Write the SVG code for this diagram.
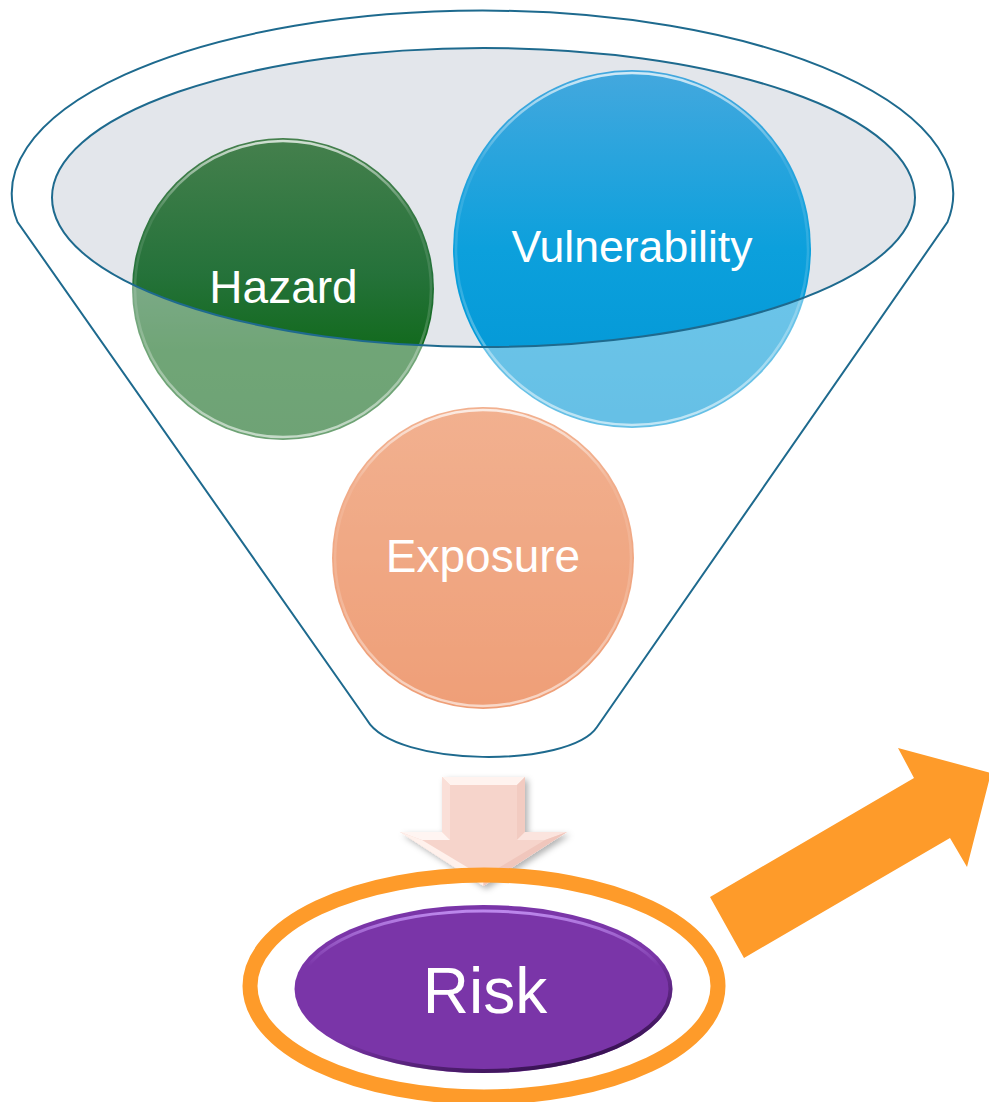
<svg xmlns="http://www.w3.org/2000/svg" width="989" height="1102" viewBox="0 0 989 1102">
  <defs>
    <style>
      .label { font-family: "Liberation Sans", Arial, sans-serif; fill: #ffffff; text-anchor: middle; }
      .outline { fill: none; stroke: #1E6A8E; stroke-width: 2; }
      .orange { fill: #FE9B2A; }
    </style>
    <linearGradient id="gHazard" x1="0" y1="0" x2="0" y2="1">
      <stop offset="0" stop-color="#45804D"/>
      <stop offset="0.45" stop-color="#25723A"/>
      <stop offset="0.7" stop-color="#126A1D"/>
      <stop offset="1" stop-color="#0E661A"/>
    </linearGradient>
    <linearGradient id="gVuln" x1="0" y1="0" x2="0" y2="1">
      <stop offset="0" stop-color="#44A8DE"/>
      <stop offset="0.5" stop-color="#0CA0DC"/>
      <stop offset="1" stop-color="#0096D5"/>
    </linearGradient>
    <linearGradient id="gExpo" x1="0" y1="0" x2="0" y2="1">
      <stop offset="0" stop-color="#E97D46"/>
      <stop offset="1" stop-color="#E45F1E"/>
    </linearGradient>
    <!-- soft bevel rim used on the round nodes -->
    <linearGradient id="gRim" x1="0" y1="0" x2="0" y2="1">
      <stop offset="0" stop-color="#ffffff" stop-opacity="0.75"/>
      <stop offset="0.25" stop-color="#ffffff" stop-opacity="0.1"/>
      <stop offset="0.6" stop-color="#ffffff" stop-opacity="0.15"/>
      <stop offset="1" stop-color="#ffffff" stop-opacity="0.6"/>
    </linearGradient>
    <linearGradient id="gRiskTop" x1="0" y1="0" x2="0" y2="1">
      <stop offset="0" stop-color="#C08CF0" stop-opacity="0.95"/>
      <stop offset="0.35" stop-color="#C08CF0" stop-opacity="0"/>
      <stop offset="1" stop-color="#C08CF0" stop-opacity="0"/>
    </linearGradient>
    <linearGradient id="gRiskBottom" x1="0.2" y1="0" x2="0.8" y2="1">
      <stop offset="0" stop-color="#2A0A40" stop-opacity="0"/>
      <stop offset="0.55" stop-color="#2A0A40" stop-opacity="0"/>
      <stop offset="1" stop-color="#2A0A40" stop-opacity="0.95"/>
    </linearGradient>
    <filter id="shadow" x="-20%" y="-20%" width="140%" height="140%">
      <feDropShadow dx="3" dy="3" stdDeviation="3" flood-color="#000000" flood-opacity="0.3"/>
    </filter>
  </defs>

  <!-- funnel mouth: grey opening behind the nodes -->
  <g id="funnel-back">
    <ellipse cx="483.5" cy="197.5" rx="431.5" ry="149.5" fill="#E3E6EB"/>
  </g>

  <g id="node-hazard">
    <circle cx="283" cy="289" r="151" fill="url(#gHazard)"/>
    <circle cx="283" cy="289" r="148" fill="none" stroke="url(#gRim)" stroke-width="2.5"/>
    <text class="label" x="283.5" y="303" font-size="46">Hazard</text>
  </g>

  <g id="node-vulnerability">
    <circle cx="632" cy="249" r="179" fill="url(#gVuln)"/>
    <circle cx="632" cy="249" r="176" fill="none" stroke="url(#gRim)" stroke-width="2.5"/>
    <text class="label" x="632" y="262" font-size="45" textLength="241" lengthAdjust="spacingAndGlyphs">Vulnerability</text>
  </g>

  <g id="node-exposure">
    <circle cx="483" cy="558" r="151" fill="url(#gExpo)"/>
    <circle cx="483" cy="558" r="148" fill="none" stroke="url(#gRim)" stroke-width="2.5"/>
    <text class="label" x="483" y="572" font-size="46">Exposure</text>
  </g>

  <!-- funnel body: translucent glass over the lower part, then outlines -->
  <g id="funnel-front">
    <path fill="#ffffff" fill-opacity="0.4" fill-rule="evenodd"
          d="M 17.5 222 A 470.7 183 0 1 1 947.5 222 L 597 727 C 570 768 395 768 367 720 Z
             M 52 197.5 A 431.5 149.5 0 1 0 915 197.5 A 431.5 149.5 0 1 0 52 197.5 Z"/>
    <path class="outline" d="M 17.5 222 A 470.7 183 0 1 1 947.5 222 L 597 727 C 570 768 395 768 367 720 Z"/>
    <ellipse class="outline" cx="483.5" cy="197.5" rx="431.5" ry="149.5"/>
  </g>

  <g id="connectors">
    <!-- bevelled down arrow from the funnel to Risk -->
    <g id="arrow-down" filter="url(#shadow)">
      <polygon points="442,777 525,777 525,832 567,832 483.5,886 400,832 442,832" fill="#F6D4CB"/>
      <polygon points="442,777 525,777 517,785 450,785" fill="#FFF3EF"/>
      <polygon points="442,777 450,785 450,840 442,832" fill="#FADFD8"/>
      <polygon points="525,777 525,832 517,840 517,785" fill="#F2CBC1"/>
      <polygon points="400,832 442,832 450,840 422,840" fill="#FFF5F2"/>
      <polygon points="525,832 567,832 545,840 517,840" fill="#FBE4DE"/>
      <polygon points="400,832 422,840 483.5,877 483.5,886" fill="#FFF1EC"/>
      <polygon points="567,832 483.5,886 483.5,877 545,840" fill="#F0C6BC"/>
    </g>
    <!-- outgoing orange arrow -->
    <polygon id="arrow-out" class="orange" points="710,897 914,778 898,748 991,773 967,867 950,838 744,958"/>
  </g>

  <g id="node-risk">
    <ellipse cx="484" cy="986" rx="234" ry="111" fill="none" stroke="#FE9B2A" stroke-width="15"/>
    <ellipse cx="483.5" cy="989" rx="189" ry="84" fill="#7A35A8"/>
    <ellipse cx="483.5" cy="989" rx="187" ry="82" fill="none" stroke="url(#gRiskBottom)" stroke-width="4"/>
    <ellipse cx="483.5" cy="990" rx="184" ry="79" fill="none" stroke="url(#gRiskTop)" stroke-width="3"/>
    <text class="label" x="485" y="1013" font-size="64">Risk</text>
  </g>
</svg>
